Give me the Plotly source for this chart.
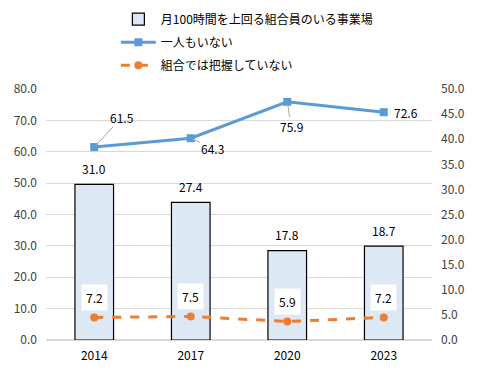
import plotly.graph_objects as go

years = ["2014", "2017", "2020", "2023"]
over100 = [31.0, 27.4, 17.8, 18.7]
nobody = [61.5, 64.3, 75.9, 72.6]
unknown = [7.2, 7.5, 5.9, 7.2]
left_ticks = [0, 10, 20, 30, 40, 50, 60, 70, 80]
right_ticks = [0, 5, 10, 15, 20, 25, 30, 35, 40, 45, 50]

pos = list(range(len(years)))

FONT = "Noto Sans CJK JP, Meiryo, sans-serif"
TXT = "#404040"

fig = go.Figure()
fig.add_trace(go.Bar(
    x=pos, y=over100, yaxis="y", name="月100時間を上回る組合員のいる事業場",
    marker=dict(color="#DDE8F5", line=dict(color="#000000", width=1.2)),
    width=0.4, legendgroup="a",
))
fig.add_trace(go.Scatter(
    x=pos, y=nobody, yaxis="y2", name="一人もいない", mode="lines+markers",
    line=dict(color="#5B9BD5", width=3),
    marker=dict(symbol="square", size=8, color="#5B9BD5"), legendgroup="b",
))
fig.add_trace(go.Scatter(
    x=pos, y=unknown, yaxis="y2", name="組合では把握していない", mode="lines+markers",
    line=dict(color="#ED7D31", width=3, dash="dash"),
    marker=dict(symbol="circle", size=8, color="#ED7D31"), legendgroup="c",
))

ann = []
for x, v in zip(pos, over100):
    ann.append(dict(x=x, y=v, xref="x", yref="y", text=f"{v:.1f}", showarrow=False,
                    yshift=16, font=dict(size=12, color="#000000", family=FONT)))
# blue line labels with leader lines
offsets = [(28, -30), (22, 10), (4, 25), (22, 0)]
for i, (x, v) in enumerate(zip(pos, nobody)):
    ax, ay = offsets[i]
    if i == 3:
        ann.append(dict(x=x, y=v, xref="x", yref="y2", text=f"{v:.1f}", showarrow=False,
                        xshift=ax, font=dict(size=12, color="#000000", family=FONT)))
    else:
        ann.append(dict(x=x, y=v, xref="x", yref="y2", text=f"{v:.1f}", showarrow=True,
                        arrowhead=0, arrowwidth=1, arrowcolor="#A6A6A6", ax=ax, ay=ay,
                        standoff=2,
                        font=dict(size=12, color="#000000", family=FONT)))
for x, v in zip(pos, unknown):
    ann.append(dict(x=x, y=v, xref="x", yref="y2", text=f"{v:.1f}", showarrow=False,
                    yshift=20, bgcolor="#FFFFFF", borderpad=4,
                    font=dict(size=12, color="#000000", family=FONT)))

fig.update_layout(
    width=471, height=365,
    margin=dict(l=38, r=47, t=81, b=33, autoexpand=False),
    paper_bgcolor="#FFFFFF", plot_bgcolor="#FFFFFF",
    font=dict(family=FONT, size=12, color=TXT),
    xaxis=dict(range=[-0.5, 3.5], tickvals=pos, ticktext=years, showgrid=False,
               showline=False, ticks="", zeroline=False, ticklabelstandoff=7,
               tickfont=dict(size=12, color="#000000")),
    yaxis=dict(range=[0, 50], tickvals=right_ticks, ticktext=[f"{t:.1f}" for t in right_ticks],
               side="right", showgrid=False, zeroline=False, ticklabelstandoff=8,
               showline=False, ticks="", tickfont=dict(size=12, color=TXT)),
    yaxis2=dict(range=[0, 80], tickvals=left_ticks, ticktext=[f"{t:.1f}" for t in left_ticks],
                overlaying="y", side="left", ticklabelstandoff=8,
                showgrid=True, gridcolor="#D9D9D9", gridwidth=1, zeroline=True,
                zerolinecolor="#D9D9D9", showline=False, ticks="",
                tickfont=dict(size=12, color=TXT)),
    legend=dict(x=0.181, y=1.336, xanchor="left", yanchor="top", orientation="v",
                font=dict(size=12, color="#000000", family=FONT),
                traceorder="grouped", tracegroupgap=4, itemwidth=35,
                bgcolor="rgba(0,0,0,0)"),
    annotations=ann,
)

fig.write_html("out.html")
